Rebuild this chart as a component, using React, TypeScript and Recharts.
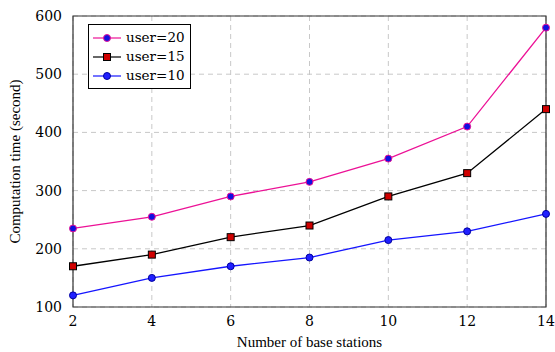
import React from "react";
import {
  LineChart,
  Line,
  XAxis,
  YAxis,
  CartesianGrid,
  ReferenceArea,
} from "recharts";

const stations = [2, 4, 6, 8, 10, 12, 14];
const user20 = [235, 255, 290, 315, 355, 410, 580];
const user15 = [170, 190, 220, 240, 290, 330, 440];
const user10 = [120, 150, 170, 185, 215, 230, 260];
const yTicks = [100, 200, 300, 400, 500, 600];

const data = stations.map((s, i) => ({
  s,
  u20: user20[i],
  u15: user15[i],
  u10: user10[i],
}));

const FONT_A = "'Times New Roman', Times, serif";
const FONT_B = "DejaVu Serif";

const series = [
  { key: "u20", name: "user=20", line: "#ec1196", fill: "#1010e0", stroke: "#ec1196", shape: "circle" },
  { key: "u15", name: "user=15", line: "#000000", fill: "#d00000", stroke: "#000000", shape: "square" },
  { key: "u10", name: "user=10", line: "#1515ff", fill: "#2020ff", stroke: "#0000a0", shape: "circle" },
];

const Marker = ({ cx, cy, shape, fill, stroke }: any) => {
  if (cx == null || cy == null) return null;
  if (shape === "square") {
    return <rect x={cx - 3.5} y={cy - 3.5} width={7} height={7} fill={fill} stroke={stroke} strokeWidth={1} />;
  }
  return <circle cx={cx} cy={cy} r={3.5} fill={fill} stroke={stroke} strokeWidth={1} />;
};

const LegendBox = () => (
  <div
    style={{
      position: "absolute",
      left: 88,
      top: 24,
      border: "1px solid #000",
      background: "#fff",
      padding: "3px 5px 3px 4px",
      fontFamily: FONT_B,
      fontSize: 13.5,
      lineHeight: "19px",
      color: "#000",
    }}
  >
    {series.map((s) => (
      <div key={s.key} style={{ display: "flex", alignItems: "center" }}>
        <svg width={28} height={14} style={{ marginRight: 5 }}>
          <line x1={0} y1={7} x2={28} y2={7} stroke={s.line} strokeWidth={1.2} />
          <Marker cx={14} cy={7} shape={s.shape} fill={s.fill} stroke={s.stroke} />
        </svg>
        <span>{s.name}</span>
      </div>
    ))}
  </div>
);

export default function App() {
  return (
    <div style={{ position: "absolute", left: 0, top: 0, width: 555, height: 352, background: "#fff" }}>
      <LineChart
        width={555}
        height={352}
        data={data}
        margin={{ top: 16, right: 9, bottom: 0, left: 0 }}
      >
        <CartesianGrid stroke="#c8c8c8" strokeDasharray="5 4" />
        <XAxis
          dataKey="s"
          type="number"
          domain={[2, 14]}
          ticks={stations}
          height={45}
          axisLine={false}
          tickLine={false}
          tick={{ fill: "#000", fontSize: 14, style: { fontFamily: FONT_B } }}
          tickMargin={3}
          label={{
            value: "Number of base stations",
            position: "insideBottom",
            offset: 5,
            fill: "#000",
            fontSize: 15,
            style: { fontFamily: FONT_A },
          }}
        />
        <YAxis
          type="number"
          domain={[100, 600]}
          ticks={yTicks}
          width={73}
          axisLine={false}
          tickLine={false}
          tick={{ fill: "#000", fontSize: 14, style: { fontFamily: FONT_B } }}
          tickMargin={5}
          label={{
            value: "Computation time (second)",
            angle: -90,
            position: "insideLeft",
            offset: 15,
            fill: "#000",
            fontSize: 15,
            style: { textAnchor: "middle", fontFamily: FONT_A },
          }}
        />
        <ReferenceArea x1={2} x2={14} y1={100} y2={600} fill="none" stroke="#333" strokeWidth={1.2} ifOverflow="visible" />
        {series.map((s) => (
          <Line
            key={s.key}
            dataKey={s.key}
            name={s.name}
            stroke={s.line}
            strokeWidth={1.3}
            isAnimationActive={false}
            dot={(p: any) => <Marker key={`${s.key}-${p.index}`} cx={p.cx} cy={p.cy} shape={s.shape} fill={s.fill} stroke={s.stroke} />}
            activeDot={false}
          />
        ))}
      </LineChart>
      <LegendBox />
    </div>
  );
}
